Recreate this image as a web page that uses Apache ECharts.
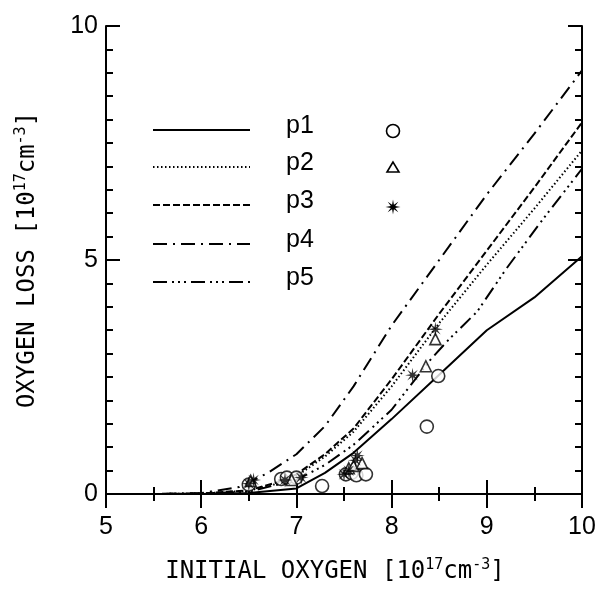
<!DOCTYPE html>
<html><head><meta charset="utf-8">
<script src="https://cdn.jsdelivr.net/npm/echarts@6/dist/echarts.min.js"></script>
<style>html,body{margin:0;padding:0;background:#fff}#c{width:600px;height:589px}</style>
</head><body><div id="c"></div>
<script>
// ---- data ----
const xTicks = [5, 6, 7, 8, 9, 10];
const yTicks = [0, 5, 10];
const seriesNames = ['p1', 'p2', 'p3', 'p4', 'p5'];
const p1 = [[5,0],[5.5,0],[6,0],[6.5,0.02],[7,0.12],[7.3,0.45],[7.6,0.88],[8,1.6],[8.5,2.55],[9,3.5],[9.5,4.2],[10,5.08]];
const p2 = [[5,0],[5.5,0],[6,0.01],[6.5,0.07],[6.8,0.22],[7,0.38],[7.3,0.8],[7.6,1.33],[8,2.3],[8.5,3.65],[9,4.9],[9.5,6.1],[10,7.34]];
const p3 = [[5,0],[5.5,0],[6,0.01],[6.5,0.08],[6.8,0.25],[7,0.42],[7.3,0.85],[7.6,1.4],[8,2.45],[8.5,3.85],[9,5.2],[9.5,6.55],[10,7.94]];
const p4 = [[5,0],[5.5,0],[6,0.02],[6.4,0.15],[6.7,0.45],[7,0.85],[7.3,1.45],[7.6,2.3],[8,3.6],[8.5,5.0],[9,6.4],[9.5,7.7],[10,9.05]];
const p5 = [[5,0],[5.5,0],[6,0.01],[6.5,0.05],[7,0.3],[7.3,0.62],[7.6,1.05],[8,1.8],[8.4,2.85],[8.6,3.3],[8.9,3.9],[9.2,4.8],[9.6,5.9],[10,6.95]];
const obsCircle = [[6.5,0.2],[6.84,0.32],[6.9,0.35],[7.0,0.35],[7.27,0.17],[7.52,0.42],[7.58,0.45],[7.63,0.4],[7.73,0.42],[8.37,1.44],[8.49,2.52]];
const obsTriangle = [[6.52,0.28],[6.95,0.3],[7.55,0.55],[7.6,0.6],[7.69,0.66],[8.36,2.73],[8.46,3.31]];
const obsStar = [[6.5,0.22],[6.55,0.3],[6.88,0.3],[7.05,0.35],[7.5,0.42],[7.55,0.5],[7.62,0.72],[7.64,0.82],[8.22,2.54],[8.46,3.52]];

// ---- styles ----
const dashes = ['solid', [1.5, 2.5], [7, 3], [14, 6, 2, 6], [14, 5, 2, 4, 2, 4, 2, 5]];
function starPoints(cx, cy, ro, ri) {
  const pts = [];
  const n = 8;
  for (let i = 0; i < 2 * n; i++) {
    const r = i % 2 === 0 ? ro : ri;
    const a = Math.PI * i / n - Math.PI / 2;
    pts.push([cx + r * Math.cos(a), cy + r * Math.sin(a)]);
  }
  return pts;
}
const STAR = 'path://' + starPoints(0, 0, 10, 3.2).map((p, i) => (i ? 'L' : 'M') + p[0].toFixed(2) + ' ' + p[1].toFixed(2)).join(' ') + ' Z';

const chart = echarts.init(document.getElementById('c'));
const axisCommon = {
  axisLine: { show: true, lineStyle: { color: '#000', width: 2 } },
  axisTick: { show: true, inside: true, length: 14, lineStyle: { color: '#000', width: 2 } },
  minorTick: { show: true, splitNumber: 2, length: 7, lineStyle: { color: '#000', width: 2 } },
  splitLine: { show: false }
};
const labelFont = { fontSize: 25, color: '#000', fontFamily: 'Liberation Sans' };
const titleRich = {
  t: { fontSize: 24, fontFamily: 'DejaVu Sans Mono', color: '#000' },
  s: { fontSize: 15, fontFamily: 'DejaVu Sans Mono', color: '#000', padding: [0, 0, 13, 0] }
};
const lineSeries = [p1, p2, p3, p4, p5].map((d, i) => ({
  name: seriesNames[i], type: 'line', data: d, symbol: 'none', smooth: false,
  lineStyle: { color: '#000', width: 2, type: dashes[i] }, z: 3
}));
const scat = (d, sym, size, filled) => ({
  type: 'scatter', data: d, symbol: sym, symbolSize: size,
  itemStyle: filled ? { color: '#000' } : { color: '#fff', borderColor: '#000', borderWidth: 1.6 }, z: 4
});

const legendGraphics = [];
const legY = [130, 167, 205, 244, 282];
seriesNames.forEach((n, i) => {
  legendGraphics.push({ type: 'line', shape: { x1: 153, y1: legY[i], x2: 250, y2: legY[i] },
    style: { stroke: '#000', lineWidth: 2, lineDash: i === 0 ? null : dashes[i] } });
  legendGraphics.push({ type: 'text', x: 286, y: legY[i] - 16,
    style: { text: n, font: '25px "Liberation Sans"', fill: '#000' } });
});
legendGraphics.push({ type: 'circle', shape: { cx: 393, cy: 131, r: 6.5 }, style: { fill: '#fff', stroke: '#000', lineWidth: 1.6 } });
legendGraphics.push({ type: 'polygon', shape: { points: [[393, 162], [387, 172], [399, 172]] }, style: { fill: '#fff', stroke: '#000', lineWidth: 1.6 } });
legendGraphics.push({ type: 'polygon', shape: { points: starPoints(393, 207, 7.5, 2.4) }, style: { fill: '#000' } });

chart.setOption({
  animation: false,
  backgroundColor: '#fff',
  grid: { left: 106, right: 18, top: 26, bottom: 91 },
  xAxis: [
    Object.assign({ type: 'value', min: xTicks[0], max: xTicks[xTicks.length - 1], interval: 1, position: 'bottom',
      axisLabel: Object.assign({ margin: 21 }, labelFont),
      name: '{t|INITIAL OXYGEN [10}{s|17}{t|cm}{s|-3}{t|]}', nameLocation: 'middle', nameGap: 64,
      nameTextStyle: { rich: titleRich, padding: [0, 18, 0, 0] } }, axisCommon),
    Object.assign({ type: 'value', min: xTicks[0], max: xTicks[xTicks.length - 1], interval: 1, position: 'top',
      axisLabel: { show: false } }, axisCommon)
  ],
  yAxis: [
    Object.assign({}, axisCommon, { type: 'value', min: yTicks[0], max: yTicks[yTicks.length - 1], interval: 5, position: 'left',
      minorTick: { show: true, splitNumber: 10, length: 7, lineStyle: { color: '#000', width: 2 } },
      axisLabel: Object.assign({ margin: 8 }, labelFont),
      name: '{t|OXYGEN LOSS [10}{s|17}{t|cm}{s|-3}{t|]}', nameLocation: 'middle', nameGap: 64, nameRotate: 90,
      nameTextStyle: { rich: titleRich } }),
    Object.assign({}, axisCommon, { type: 'value', min: yTicks[0], max: yTicks[yTicks.length - 1], interval: 5, position: 'right',
      minorTick: { show: true, splitNumber: 10, length: 7, lineStyle: { color: '#000', width: 2 } },
      axisLabel: { show: false } })
  ],
  series: lineSeries.concat([
    scat(obsCircle, 'circle', 13, false),
    scat(obsTriangle, 'triangle', 11, false),
    scat(obsStar, STAR, 15, true)
  ]),
  graphic: legendGraphics
});
</script></body></html>
